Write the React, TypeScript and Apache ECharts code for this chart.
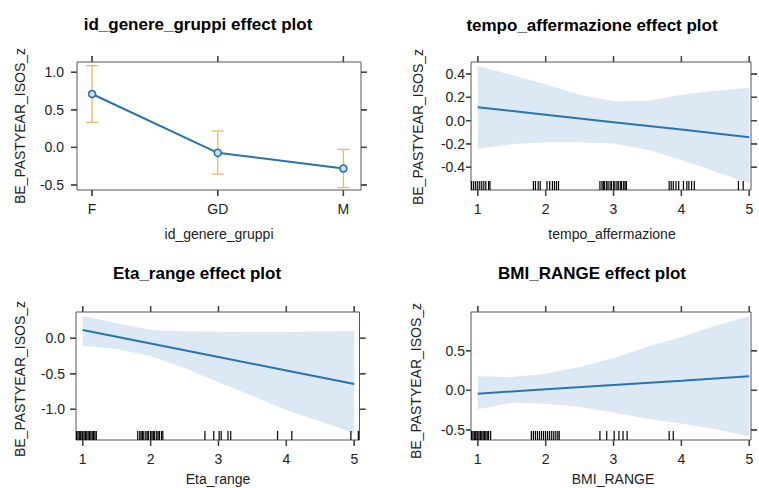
import React, { useEffect, useRef } from 'react';
import * as echarts from 'echarts';

// ---------- data ----------
const yName = 'BE_PASTYEAR_ISOS_z';
const titles = [
  'id_genere_gruppi effect plot',
  'tempo_affermazione effect plot',
  'Eta_range effect plot',
  'BMI_RANGE effect plot',
];
const xNames = ['id_genere_gruppi', 'tempo_affermazione', 'Eta_range', 'BMI_RANGE'];

const genereCats = ['F', 'GD', 'M'];
const genereFit = [0.711, -0.072, -0.281];
const genereLower = [0.334, -0.355, -0.535];
const genereUpper = [1.088, 0.218, -0.027];

const catTicks = [1, 2, 3];
const numTicks = [1, 2, 3, 4, 5];
const fitX = [1, 2, 3, 4, 5];
const bandX = [1, 1.5, 2, 2.5, 3, 3.5, 4, 4.5, 5];

const tempoFit = [0.115, 0.051, -0.013, -0.077, -0.142];
const tempoUpper = [0.469, 0.391, 0.312, 0.222, 0.166, 0.168, 0.222, 0.257, 0.283];
const tempoLower = [-0.243, -0.2, -0.185, -0.185, -0.196, -0.25, -0.337, -0.436, -0.537];
const tempoRug = [
  0.91, 0.94, 0.97, 1.0, 1.03, 1.06, 1.09, 1.12, 1.16, 1.18,
  1.82, 1.85, 1.89, 1.92, 2.02, 2.06, 2.1, 2.13, 2.16, 2.19,
  2.8, 2.83, 2.85, 2.87, 2.9, 2.92, 2.95, 2.97, 3.0, 3.02, 3.05, 3.07, 3.1, 3.12, 3.15, 3.17, 3.19,
  3.82, 3.85, 3.88, 3.92, 3.96, 4.03, 4.08, 4.11, 4.15, 4.19,
  4.84, 4.91,
];

const etaFit = [0.117, -0.073, -0.264, -0.454, -0.644];
const etaUpper = [0.314, 0.21, 0.12, 0.095, 0.093, 0.09, 0.09, 0.095, 0.103];
const etaLower = [-0.104, -0.15, -0.25, -0.42, -0.62, -0.81, -1.01, -1.17, -1.338];
const etaRug = [
  0.91, 0.93, 0.95, 0.97, 0.99, 1.0, 1.02, 1.04, 1.06, 1.08, 1.1, 1.12, 1.14, 1.16, 1.18, 1.2,
  1.81, 1.84, 1.86, 1.88, 1.9, 1.93, 1.95, 1.97, 2.0, 2.02, 2.04, 2.06, 2.09, 2.11, 2.13, 2.16, 2.18,
  2.8, 2.93, 3.01, 3.04, 3.14, 3.18, 3.87, 4.08, 4.95, 5.06,
];

const bmiFit = [-0.042, 0.013, 0.068, 0.122, 0.177];
const bmiUpper = [0.177, 0.168, 0.21, 0.295, 0.41, 0.55, 0.675, 0.815, 0.94];
const bmiLower = [-0.24, -0.156, -0.168, -0.21, -0.28, -0.36, -0.42, -0.49, -0.58];
const bmiRug = [
  0.91, 0.93, 0.95, 0.97, 0.99, 1.0, 1.02, 1.04, 1.06, 1.08, 1.1, 1.12, 1.14, 1.16, 1.19,
  1.79, 1.82, 1.85, 1.88, 1.91, 1.94, 1.97, 2.0, 2.03, 2.06, 2.09, 2.12, 2.15, 2.18, 2.2,
  2.8, 2.9, 3.01, 3.08, 3.14, 3.2, 3.82, 3.88,
];

const yTicks = [
  [-0.5, 0, 0.5, 1.0],
  [-0.4, -0.2, 0, 0.2, 0.4],
  [-1.0, -0.5, 0],
  [-0.5, 0, 0.5],
];

// ---------- layout / style ----------
const FONT = '"Liberation Sans", Arial, Helvetica, sans-serif';
const BLUE = '#2774b3';
const BAND = '#dce8f3';
const CI = '#eeb85c';
const FRAME = '#555555';
const TICK = '#444444';
const TEXT = '#222222';
const TICK_LEN = 6;

const grids = [
  { left: 77, top: 62, width: 284, height: 128 },
  { left: 471, top: 62, width: 280, height: 128 },
  { left: 76, top: 312, width: 283.5, height: 128 },
  { left: 471, top: 312, width: 280, height: 128 },
];
const xRanges = [
  [0.88, 3.14],
  [0.901, 5.025],
  [0.901, 5.077],
  [0.901, 5.025],
];
const yRanges = [
  [-0.567, 1.137],
  [-0.595, 0.503],
  [-1.432, 0.37],
  [-0.627, 0.99],
];
const yLabelMargin = [13, 6, 11, 6];
const titlePos = [[198, 24], [592, 25], [197, 273], [592, 273]];
const xNamePos = [[219, 234], [612, 234], [218, 479], [613, 479]];
const yNamePos = [[20, 126], [418, 127], [20, 379], [416, 381]];

function textGraphics() {
  const graphic: any[] = [];
  for (let i = 0; i < 4; i++) {
    graphic.push({
      type: 'text', x: titlePos[i][0], y: titlePos[i][1], silent: true,
      style: { text: titles[i], align: 'center', verticalAlign: 'middle', fontSize: 17, fontWeight: 'bold', fontFamily: FONT, fill: '#000' },
    });
    graphic.push({
      type: 'text', x: xNamePos[i][0], y: xNamePos[i][1], silent: true,
      style: { text: xNames[i], align: 'center', verticalAlign: 'middle', fontSize: 14, fontFamily: FONT, fill: TEXT },
    });
    graphic.push({
      type: 'text', x: yNamePos[i][0], y: yNamePos[i][1], rotation: Math.PI / 2, silent: true,
      style: { text: yName, align: 'center', verticalAlign: 'middle', fontSize: 14, fontFamily: FONT, fill: TEXT },
    });
  }
  return graphic;
}

// one tick series for one side of a panel (lattice draws ticks on all four sides)
function tickSeries(i: number, side: 'b' | 't' | 'l' | 'r', len: number) {
  const xr = xRanges[i];
  const yr = yRanges[i];
  const vals = side === 'b' || side === 't' ? (i === 0 ? catTicks : numTicks) : yTicks[i];
  const data = vals.map((v) =>
    side === 'b' ? [v, yr[0]] : side === 't' ? [v, yr[1]] : side === 'l' ? [xr[0], v] : [xr[1], v]
  );
  return {
    type: 'custom', xAxisIndex: i, yAxisIndex: i, z: 6, clip: false,
    data,
    encode: { x: 0, y: 1 },
    renderItem: (params: any, api: any) => {
      const c = api.coord([api.value(0), api.value(1)]);
      const dx = side === 'l' ? -len : side === 'r' ? len : 0;
      const dy = side === 'b' ? len : side === 't' ? -len : 0;
      return {
        type: 'line',
        shape: { x1: c[0], y1: c[1], x2: c[0] + dx, y2: c[1] + dy },
        style: { stroke: TICK, lineWidth: 1.3 },
      };
    },
  };
}

// same ticks as graphic lines, placed with the chart's own scales
function tickGraphics(chart: any) {
  const out: any[] = [];
  const st = { stroke: TICK, lineWidth: 1.3 };
  for (let i = 0; i < 4; i++) {
    const xr = xRanges[i];
    const yr = yRanges[i];
    const finder = { xAxisIndex: i, yAxisIndex: i };
    const xt = i === 0 ? catTicks : numTicks;
    xt.forEach((v) => {
      const b = chart.convertToPixel(finder, [v, yr[0]]);
      const t = chart.convertToPixel(finder, [v, yr[1]]);
      if (!b || !t) return;
      out.push({ type: 'line', silent: true, z: 10, shape: { x1: b[0], y1: b[1], x2: b[0], y2: b[1] + TICK_LEN }, style: st });
      out.push({ type: 'line', silent: true, z: 10, shape: { x1: t[0], y1: t[1], x2: t[0], y2: t[1] - TICK_LEN }, style: st });
    });
    const lLen = i % 2 === 1 ? 5 : TICK_LEN;
    yTicks[i].forEach((v) => {
      const l = chart.convertToPixel(finder, [xr[0], v]);
      const r = chart.convertToPixel(finder, [xr[1], v]);
      if (!l || !r) return;
      out.push({ type: 'line', silent: true, z: 10, shape: { x1: l[0], y1: l[1], x2: l[0] - lLen, y2: l[1] }, style: st });
      out.push({ type: 'line', silent: true, z: 10, shape: { x1: r[0], y1: r[1], x2: r[0] + TICK_LEN, y2: r[1] }, style: st });
    });
  }
  return out;
}

function buildOption() {
  const xAxis: any[] = [];
  const yAxis: any[] = [];
  const series: any[] = [];

  for (let i = 0; i < 4; i++) {
    const xt = i === 0 ? catTicks : numTicks;
    const fmtX = (v: number) => (i === 0 ? genereCats[Math.round(v) - 1] : String(Math.round(v)));
    xAxis.push({
      type: 'value', gridIndex: i, position: 'bottom', min: xRanges[i][0], max: xRanges[i][1],
      axisLine: { show: false, onZero: false }, splitLine: { show: false }, axisTick: { show: false },
      axisLabel: { show: true, customValues: xt, formatter: fmtX, margin: 12, fontSize: 14, fontFamily: FONT, color: TEXT },
    });
    const yt = yTicks[i];
    yAxis.push({
      type: 'value', gridIndex: i, position: 'left', min: yRanges[i][0], max: yRanges[i][1],
      axisLine: { show: false, onZero: false }, splitLine: { show: false }, axisTick: { show: false },
      axisLabel: { show: true, customValues: yt, formatter: (v: number) => v.toFixed(1), margin: yLabelMargin[i], fontSize: 14, fontFamily: FONT, color: TEXT },
    });
    series.push(tickSeries(i, 'b', TICK_LEN));
    series.push(tickSeries(i, 't', TICK_LEN));
    series.push(tickSeries(i, 'l', i % 2 === 1 ? 5 : TICK_LEN));
    series.push(tickSeries(i, 'r', TICK_LEN));
  }

  // Panel 1: error bars + points
  series.push({
    type: 'custom', xAxisIndex: 0, yAxisIndex: 0, z: 2, silent: true,
    data: genereCats.map((_, k) => [k + 1, genereLower[k], genereUpper[k]]),
    encode: { x: 0, y: [1, 2] },
    renderItem: (params: any, api: any) => {
      const x = api.value(0);
      const lo = api.coord([x, api.value(1)]);
      const hi = api.coord([x, api.value(2)]);
      const w = 6;
      const st = { stroke: CI, lineWidth: 1.3, fill: null };
      return {
        type: 'group',
        children: [
          { type: 'line', shape: { x1: lo[0], y1: lo[1], x2: hi[0], y2: hi[1] }, style: st },
          { type: 'line', shape: { x1: lo[0] - w, y1: lo[1], x2: lo[0] + w, y2: lo[1] }, style: st },
          { type: 'line', shape: { x1: hi[0] - w, y1: hi[1], x2: hi[0] + w, y2: hi[1] }, style: st },
        ],
      };
    },
  });
  series.push({
    type: 'line', xAxisIndex: 0, yAxisIndex: 0, z: 3, silent: true,
    data: genereFit.map((v, k) => [k + 1, v]),
    symbol: 'circle', symbolSize: 7, showSymbol: true,
    lineStyle: { color: BLUE, width: 2 },
    itemStyle: { color: '#cfe2f2', borderColor: BLUE, borderWidth: 1.6 },
  });

  const panels = [
    { idx: 1, fit: tempoFit, up: tempoUpper, lo: tempoLower, rug: tempoRug },
    { idx: 2, fit: etaFit, up: etaUpper, lo: etaLower, rug: etaRug },
    { idx: 3, fit: bmiFit, up: bmiUpper, lo: bmiLower, rug: bmiRug },
  ];
  panels.forEach((p) => {
    const ai = p.idx;
    const yMin = yRanges[p.idx][0];
    series.push({
      type: 'custom', xAxisIndex: ai, yAxisIndex: ai, z: 1, silent: true,
      data: bandX.map((x, k) => [x, p.lo[k], p.up[k]]),
      encode: { x: 0, y: [1, 2] },
      renderItem: (params: any, api: any) => {
        if (params.dataIndex !== 0) return null;
        const pts: number[][] = [];
        bandX.forEach((x, k) => pts.push(api.coord([x, p.up[k]])));
        for (let k = bandX.length - 1; k >= 0; k--) pts.push(api.coord([bandX[k], p.lo[k]]));
        return { type: 'polygon', shape: { points: pts }, style: { fill: BAND, stroke: null } };
      },
    });
    series.push({
      type: 'line', xAxisIndex: ai, yAxisIndex: ai, z: 3, silent: true,
      data: fitX.map((x, k) => [x, p.fit[k]]),
      showSymbol: false, symbol: 'none',
      lineStyle: { color: BLUE, width: 2 },
    });
    series.push({
      type: 'custom', xAxisIndex: ai, yAxisIndex: ai, z: 4, silent: true,
      data: p.rug.map((x) => [x, yMin]),
      encode: { x: 0, y: 1 },
      renderItem: (params: any, api: any) => {
        const c = api.coord([api.value(0), api.value(1)]);
        return { type: 'line', shape: { x1: c[0], y1: c[1], x2: c[0], y2: c[1] - 9 }, style: { stroke: '#000', lineWidth: 1.2 } };
      },
    });
  });

  return {
    animation: false,
    backgroundColor: '#ffffff',
    grid: grids.map((g) => ({
      ...g, show: true, borderColor: FRAME, borderWidth: 1, backgroundColor: 'transparent',
      containLabel: false, outerBoundsMode: 'none',
    })),
    xAxis, yAxis, series,
    graphic: textGraphics(),
  };
}

export default function App() {
  const ref = useRef<HTMLDivElement>(null);
  useEffect(() => {
    if (!ref.current) return;
    const chart = echarts.init(ref.current, undefined, { renderer: 'svg' });
    chart.setOption(buildOption() as any);
    try {
      chart.setOption({ graphic: [...textGraphics(), ...tickGraphics(chart)] } as any);
    } catch (e) {
      // keep the chart as is if tick placement fails
    }
    return () => chart.dispose();
  }, []);
  return (
    <div
      ref={ref}
      style={{ position: 'fixed', left: 0, top: 0, width: 759, height: 488, background: '#fff' }}
    />
  );
}
